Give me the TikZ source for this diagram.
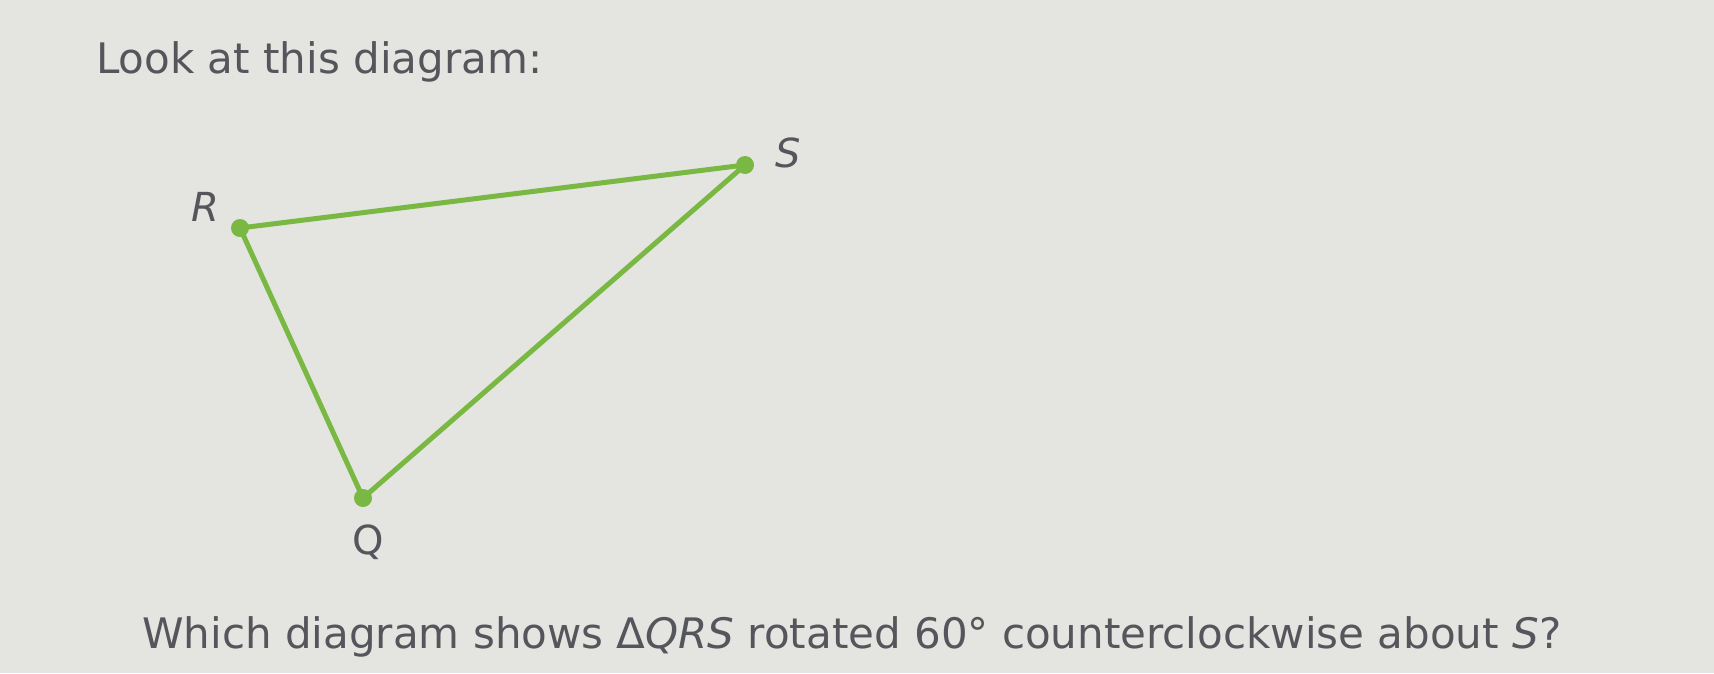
\documentclass[tikz,border=0pt]{standalone}
\usepackage{fontspec}
\setmainfont{DejaVu Sans}
\definecolor{bgc}{HTML}{E4E4E0}
\definecolor{txt}{HTML}{55555C}
\definecolor{grn}{HTML}{78B843}
\begin{document}
\begin{tikzpicture}[x=1pt,y=-1pt,
  txtstyle/.style={inner sep=0pt,text=txt,font=\fontsize{42}{50}\selectfont},
  lbl/.style={inner sep=0pt,text=txt,font=\fontsize{40}{48}\selectfont},
  edge/.style={draw=grn,line width=5pt,line cap=round},
  vtx/.style={circle,fill=grn,minimum size=18pt,inner sep=0pt}]
\fill[bgc] (0,0) rectangle (1714,673);
\useasboundingbox (0,0) rectangle (1714,673);
\node[txtstyle,anchor=base west] (title) at (96,73) {Look at this diagram:};
\node[txtstyle,anchor=base west] (question) at (142,648) {Which diagram shows Δ\textit{QRS} rotated 60° counterclockwise about \textit{S}?};
\coordinate (R) at (240,228);
\coordinate (S) at (745,165);
\coordinate (Q) at (363,498);
\draw[edge] (R) -- (S) -- (Q) -- cycle;
\node[vtx] (dR) at (R) {};
\node[vtx] (dS) at (S) {};
\node[vtx] (dQ) at (Q) {};
\node[lbl] (lR) at (205,207) {\textit{R}};
\node[lbl] (lS) at (788,153) {\textit{S}};
\node[lbl] (lQ) at (368,542) {Q};
\end{tikzpicture}
\end{document}
